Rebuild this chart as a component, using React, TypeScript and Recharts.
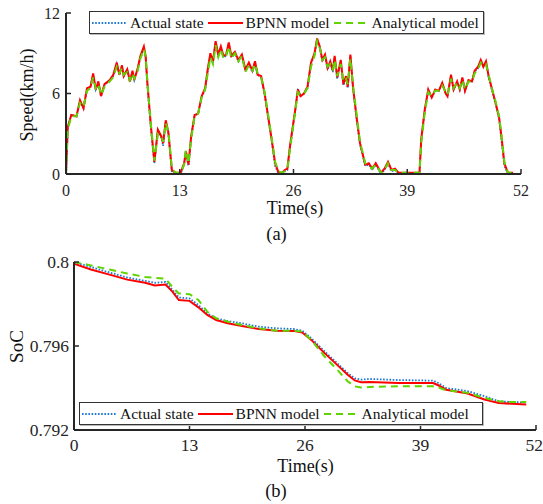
import React from 'react';
import { LineChart, Line, XAxis, YAxis, Legend } from 'recharts';

// ---- (a) speed panel ----
const speedTime = [
  0, 0.2, 0.6, 1.2, 1.6, 2.0, 2.4, 2.8, 3.1, 3.4,
  3.7, 4.0, 4.4, 5.0, 5.4, 5.8, 6.1, 6.4, 6.6, 7.0,
  7.3, 7.6, 7.8, 8.2, 8.5, 8.9, 9.1, 9.3, 9.7, 10.1,
  10.5, 10.9, 11.1, 11.4, 11.7, 12.1, 12.5, 13.1, 13.5, 13.7,
  14.0, 14.3, 14.7, 15.1, 15.5, 15.9, 16.2, 16.5, 16.8, 17.1,
  17.4, 17.7, 18.0, 18.3, 18.6, 18.9, 19.3, 19.7, 20.1, 20.5,
  20.9, 21.3, 21.6, 21.9, 22.3, 22.7, 23.1, 23.5, 23.9, 24.3,
  24.7, 25.0, 25.3, 25.6, 26.0, 26.2, 26.5, 26.8, 27.2, 27.6,
  28.0, 28.4, 28.7, 29.0, 29.3, 29.6, 29.9, 30.2, 30.5, 30.7,
  31.0, 31.4, 31.7, 32.0, 32.2, 32.5, 32.8, 33.2, 33.6, 34.2,
  34.6, 35.0, 35.4, 36.0, 36.4, 36.8, 37.2, 37.6, 38.0, 38.8,
  40.0, 40.4, 40.6, 41.0, 41.4, 41.8, 42.2, 42.6, 43.0, 43.4,
  43.6, 44.0, 44.3, 44.7, 45.0, 45.3, 45.6, 46.0, 46.4, 46.7,
  47.1, 47.4, 47.7, 48.0, 48.3, 48.7, 49.1, 49.5, 49.8, 50.1,
  50.5, 51.1,
];
const speedActual = [
  0, 3.4, 4.4, 4.3, 5.4, 4.9, 6.3, 6.5, 7.4, 6.3,
  6.8, 5.8, 6.6, 7.0, 7.3, 8.2, 7.4, 8.0, 7.3, 7.8,
  6.9, 7.6, 7.0, 7.8, 8.7, 9.4, 8.7, 6.6, 3.4, 0.8,
  3.2, 2.7, 2.1, 3.9, 3.0, 0.1, 0, 0, 0.7, 1.6,
  0.6, 2.7, 4.3, 4.5, 5.7, 6.3, 7.7, 8.9, 8.3, 9.8,
  8.8, 9.4, 8.7, 8.8, 9.7, 8.7, 9.0, 8.4, 8.8, 7.7,
  8.2, 7.6, 8.3, 7.4, 7.2, 5.9, 4.2, 2.5, 0.6, 0,
  0, 0.2, 0.3, 2.0, 3.8, 4.7, 6.2, 5.8, 6.0, 6.4,
  8.2, 8.9, 10.0, 9.4, 8.4, 8.8, 7.8, 8.3, 7.6, 8.7,
  7.1, 8.4, 6.6, 7.2, 6.4, 8.8, 6.4, 4.1, 2.2, 0.6,
  0.7, 0.3, 0.7, 0, 0.3, 0.8, 0.2, 0.3, 0, 0,
  0, 0, 2.5, 4.7, 6.2, 5.7, 6.2, 6.2, 6.7, 6.0,
  5.8, 7.3, 6.3, 6.8, 6.3, 7.1, 6.2, 6.9, 6.9, 7.6,
  7.9, 8.4, 8.0, 8.3, 7.2, 6.2, 5.2, 4.1, 2.4, 0.6,
  0, 0,
];
const speedBPNN = [
  0, 3.5, 4.4, 4.3, 5.5, 4.9, 6.4, 6.5, 7.5, 6.3,
  6.9, 5.8, 6.7, 7.0, 7.4, 8.3, 7.4, 8.1, 7.3, 7.8,
  6.9, 7.7, 7.0, 7.9, 8.8, 9.5, 8.8, 6.8, 3.6, 0.9,
  3.3, 2.8, 2.3, 4.0, 3.1, 0.3, 0.1, 0.1, 0.8, 1.7,
  0.7, 2.8, 4.4, 4.5, 5.8, 6.4, 7.8, 9.0, 8.4, 9.9,
  8.9, 9.5, 8.8, 8.9, 9.8, 8.8, 9.1, 8.5, 8.9, 7.8,
  8.3, 7.7, 8.4, 7.4, 7.3, 6.0, 4.3, 2.6, 0.8, 0.1,
  0.1, 0.3, 0.4, 2.1, 3.9, 4.8, 6.3, 5.8, 6.0, 6.5,
  8.3, 9.0, 10.1, 9.5, 8.5, 8.9, 7.9, 8.4, 7.7, 8.8,
  7.2, 8.5, 6.7, 7.3, 6.5, 8.9, 6.5, 4.3, 2.3, 0.7,
  0.8, 0.4, 0.8, 0.1, 0.4, 0.9, 0.3, 0.4, 0.1, 0.1,
  0.1, 0.1, 2.6, 4.8, 6.3, 5.7, 6.3, 6.2, 6.8, 6.0,
  5.8, 7.4, 6.3, 6.9, 6.3, 7.2, 6.2, 7.0, 6.9, 7.7,
  8.0, 8.5, 8.0, 8.4, 7.3, 6.3, 5.3, 4.2, 2.6, 0.8,
  0.1, 0.1,
];
const speedAnalytical = [
  0, 3.3, 4.3, 4.3, 5.3, 5.0, 6.2, 6.4, 7.2, 6.4,
  6.7, 5.9, 6.5, 6.9, 7.2, 8.0, 7.5, 7.9, 7.4, 7.6,
  7.0, 7.5, 7.1, 7.7, 8.6, 9.3, 8.8, 6.9, 3.7, 1.0,
  3.0, 2.8, 2.4, 3.8, 3.2, 0.4, 0.1, 0.1, 0.7, 1.8,
  0.8, 2.6, 4.3, 4.5, 5.7, 6.3, 7.5, 8.7, 8.2, 9.6,
  8.7, 9.3, 8.6, 8.8, 9.5, 8.6, 9.0, 8.4, 8.8, 7.6,
  8.1, 7.7, 8.2, 7.5, 7.2, 6.1, 4.4, 2.7, 0.9, 0.2,
  0.1, 0.2, 0.3, 1.9, 3.7, 4.7, 6.1, 5.9, 6.0, 6.4,
  8.0, 8.8, 9.9, 9.4, 8.5, 8.7, 8.0, 8.2, 7.8, 8.5,
  7.3, 8.2, 6.9, 7.1, 6.7, 8.6, 6.6, 4.5, 2.4, 0.8,
  0.6, 0.4, 0.7, 0.1, 0.3, 0.8, 0.3, 0.3, 0.1, 0.1,
  0.1, 0.1, 2.3, 4.6, 6.1, 5.8, 6.2, 6.2, 6.6, 6.1,
  5.9, 7.1, 6.4, 6.8, 6.4, 7.0, 6.3, 6.9, 6.9, 7.5,
  7.8, 8.3, 8.1, 8.2, 7.4, 6.3, 5.4, 4.3, 2.7, 0.9,
  0.1, 0.1,
];

// ---- (b) SoC panel ----
const socTime = [
  0, 1.9, 4, 6, 8, 9.1, 10.3, 11.1, 11.8, 13,
  14, 15, 16, 17.3, 18.9, 20.8, 22.8, 24.7, 25.7, 26.7,
  28.2, 29.8, 30.8, 31.6, 32.3, 33.3, 36.5, 40.4, 41.0, 41.9,
  44.3, 46.2, 47.8, 49.3, 50.9,
];
const socActual = [
  0.8, 0.79976, 0.7995, 0.79926, 0.7991, 0.79901, 0.79905, 0.79866, 0.79831, 0.79827,
  0.79795, 0.79755, 0.79732, 0.79719, 0.79708, 0.79692, 0.79684, 0.79681, 0.79673, 0.79637,
  0.79574, 0.79511, 0.79471, 0.79446, 0.7944, 0.79443, 0.79438, 0.79435, 0.79424, 0.794,
  0.79385, 0.79361, 0.79337, 0.79333, 0.79331,
];
const socBPNN = [
  0.79992, 0.79964, 0.7994, 0.79916, 0.79901, 0.79888, 0.79893, 0.79858, 0.79819, 0.79815,
  0.79784, 0.79748, 0.79724, 0.79708, 0.79695, 0.79681, 0.79673, 0.79672, 0.79664, 0.79629,
  0.79566, 0.79503, 0.79463, 0.79436, 0.79427, 0.79429, 0.79424, 0.79424, 0.79413, 0.79392,
  0.79374, 0.79345, 0.79329, 0.79325, 0.79321,
];
const socAnalytical = [
  0.8, 0.79984, 0.79964, 0.79945, 0.79929, 0.79925, 0.7992, 0.7988, 0.7985, 0.79847,
  0.79819, 0.79763, 0.79732, 0.79716, 0.797, 0.79684, 0.79673, 0.79672, 0.79669, 0.79629,
  0.7955, 0.79479, 0.79432, 0.79408, 0.79402, 0.79405, 0.79408, 0.79408, 0.79403, 0.79389,
  0.79377, 0.79353, 0.79337, 0.79333, 0.79333,
];

const timeTicks = [0, 13, 26, 39, 52];
const speedTicks = [0, 6, 12];
const socTicks = [0.792, 0.796, 0.8];
const seriesNames = ['Actual state', 'BPNN model', 'Analytical model'];

const FONT = '"Liberation Serif", "Times New Roman", serif';
const AXIS = '#262626';
const BLUE = '#1f78d4';
const RED = '#ff0000';
const GREEN = '#5ed400';

const speedData = speedTime.map((t, i) => ({
  t,
  actual: speedActual[i],
  bpnn: speedBPNN[i],
  analytical: speedAnalytical[i],
}));
const socData = socTime.map((t, i) => ({
  t,
  actual: socActual[i],
  bpnn: socBPNN[i],
  analytical: socAnalytical[i],
}));

const legendItems = [
  { name: seriesNames[0], color: BLUE, dash: '1.6 1.6', width: 1.8 },
  { name: seriesNames[1], color: RED, dash: undefined, width: 2 },
  { name: seriesNames[2], color: GREEN, dash: '7 5', width: 2 },
];

const LegendBox = ({ width }: { width: number }) => (
  <div
    style={{
      display: 'flex',
      alignItems: 'center',
      border: '1px solid #333',
      background: '#fff',
      fontFamily: FONT,
      fontSize: 15.5,
      color: '#111',
      height: 23,
      width,
      padding: '0 0 0 2px',
      boxSizing: 'border-box',
      whiteSpace: 'nowrap',
      boxShadow: '1px 1px 0 #bbb',
    }}
  >
    {legendItems.map((it, i) => (
      <div key={i} style={{ display: 'flex', alignItems: 'center', marginRight: 4 }}>
        <svg width={35} height={10} style={{ display: 'block' }}>
          <line x1={0} y1={5} x2={35} y2={5} stroke={it.color} strokeWidth={it.width} strokeDasharray={it.dash} />
        </svg>
        <span style={{ marginLeft: 3, lineHeight: '20px' }}>{it.name}</span>
      </div>
    ))}
  </div>
);

const tickStyle = (size: number) => ({ fill: AXIS, fontSize: size, fontFamily: FONT });

export default function App() {
  return (
    <div style={{ position: 'absolute', left: 0, top: 0, width: 543, height: 504, background: '#fff' }}>
      <div style={{ position: 'absolute', left: 0, top: 0 }}>
        <LineChart width={543} height={504} data={speedData} margin={{ top: 13, right: 22, left: 6, bottom: 300 }}>
          <XAxis
            dataKey="t"
            type="number"
            domain={[0, 52]}
            ticks={timeTicks}
            height={30}
            tickSize={-5}
            tickMargin={15.5}
            tick={tickStyle(16)}
            axisLine={{ stroke: AXIS, strokeWidth: 2 }}
            tickLine={{ stroke: AXIS, strokeWidth: 1.5 }}
            allowDataOverflow
          />
          <XAxis
            xAxisId="top"
            orientation="top"
            dataKey="t"
            type="number"
            domain={[0, 52]}
            ticks={timeTicks}
            height={0}
            tickSize={-5}
            tick={false}
            axisLine={{ stroke: AXIS, strokeWidth: 2 }}
            tickLine={{ stroke: AXIS, strokeWidth: 1.5 }}
          />
          <YAxis
            type="number"
            domain={[0, 12]}
            ticks={speedTicks}
            width={60}
            tickSize={-5}
            tickMargin={11}
            tick={tickStyle(16)}
            axisLine={{ stroke: AXIS, strokeWidth: 2 }}
            tickLine={{ stroke: AXIS, strokeWidth: 1.5 }}
            allowDataOverflow
          />
          <YAxis
            yAxisId="right"
            orientation="right"
            type="number"
            domain={[0, 12]}
            ticks={speedTicks}
            width={0}
            tickSize={-5}
            tick={false}
            axisLine={{ stroke: AXIS, strokeWidth: 2 }}
            tickLine={{ stroke: AXIS, strokeWidth: 1.5 }}
          />
          <Line dataKey="actual" name={seriesNames[0]} stroke={BLUE} strokeWidth={1.8} strokeDasharray="1.6 1.6" dot={false} isAnimationActive={false} />
          <Line dataKey="bpnn" name={seriesNames[1]} stroke={RED} strokeWidth={2} dot={false} isAnimationActive={false} />
          <Line dataKey="analytical" name={seriesNames[2]} stroke={GREEN} strokeWidth={2} strokeDasharray="7 5" dot={false} isAnimationActive={false} />
          <Legend
            layout="horizontal"
            verticalAlign="middle"
            align="center"
            content={() => <LegendBox width={395} />}
            wrapperStyle={{ position: 'absolute', left: 89, top: 11, width: 395, height: 23 }}
          />
        </LineChart>
      </div>

      <div style={{ position: 'absolute', left: 0, top: 0 }}>
        <LineChart width={543} height={504} data={socData} margin={{ top: 262, right: 7, left: 10, bottom: 44 }}>
          <XAxis
            dataKey="t"
            type="number"
            domain={[0, 52]}
            ticks={timeTicks}
            height={30}
            tickSize={-5}
            tickMargin={14}
            tick={tickStyle(17.5)}
            axisLine={{ stroke: AXIS, strokeWidth: 2 }}
            tickLine={{ stroke: AXIS, strokeWidth: 1.5 }}
            allowDataOverflow
          />
          <XAxis
            xAxisId="top"
            orientation="top"
            dataKey="t"
            type="number"
            domain={[0, 52]}
            ticks={timeTicks}
            height={0}
            tickSize={-5}
            tick={false}
            axisLine={{ stroke: AXIS, strokeWidth: 2 }}
            tickLine={{ stroke: AXIS, strokeWidth: 1.5 }}
          />
          <YAxis
            type="number"
            domain={[0.792, 0.8]}
            ticks={socTicks}
            width={64}
            tickSize={-5}
            tickMargin={10}
            tick={tickStyle(17.5)}
            axisLine={{ stroke: AXIS, strokeWidth: 2 }}
            tickLine={{ stroke: AXIS, strokeWidth: 1.5 }}
            allowDataOverflow
          />
          <YAxis
            yAxisId="right"
            orientation="right"
            type="number"
            domain={[0.792, 0.8]}
            ticks={socTicks}
            width={0}
            tickSize={-5}
            tick={false}
            axisLine={{ stroke: AXIS, strokeWidth: 2 }}
            tickLine={{ stroke: AXIS, strokeWidth: 1.5 }}
          />
          <Line dataKey="actual" name={seriesNames[0]} stroke={BLUE} strokeWidth={1.8} strokeDasharray="1.6 1.6" dot={false} isAnimationActive={false} />
          <Line dataKey="bpnn" name={seriesNames[1]} stroke={RED} strokeWidth={2} dot={false} isAnimationActive={false} />
          <Line dataKey="analytical" name={seriesNames[2]} stroke={GREEN} strokeWidth={2} strokeDasharray="7 5" dot={false} isAnimationActive={false} />
          <Legend
            layout="horizontal"
            verticalAlign="middle"
            align="center"
            content={() => <LegendBox width={404} />}
            wrapperStyle={{ position: 'absolute', left: 79, top: 402, width: 404, height: 23 }}
          />
        </LineChart>
      </div>

      <svg
        width={543}
        height={504}
        style={{ position: 'absolute', left: 0, top: 0, pointerEvents: 'none' }}
        fontFamily={FONT}
        fill="#111"
      >
        <text x={33} y={95} fontSize={18} textAnchor="middle" transform="rotate(-90 33 95)">Speed(km/h)</text>
        <text x={295} y={214} fontSize={18} textAnchor="middle">Time(s)</text>
        <text x={276.5} y={240} fontSize={18.5} textAnchor="middle">(a)</text>
        <text x={23} y={346.5} fontSize={19} textAnchor="middle" transform="rotate(-90 23 346.5)">SoC</text>
        <text x={305.5} y={472} fontSize={18} textAnchor="middle">Time(s)</text>
        <text x={276} y={497} fontSize={18.5} textAnchor="middle">(b)</text>
      </svg>
    </div>
  );
}
